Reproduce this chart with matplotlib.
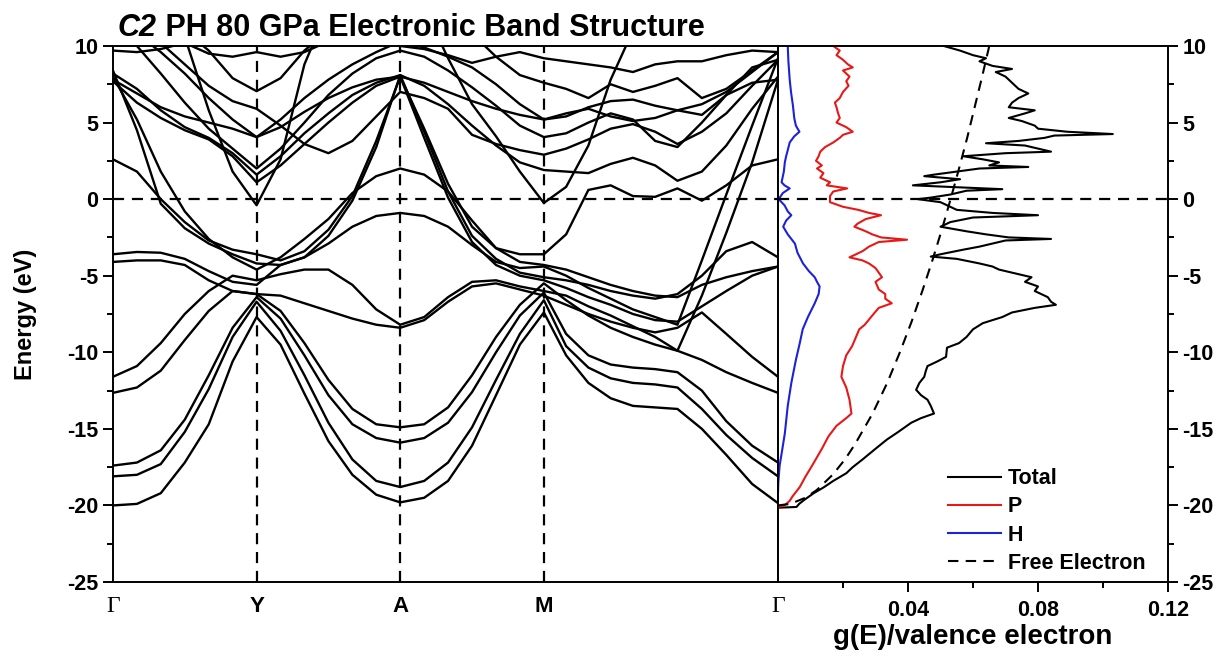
import numpy as np
import matplotlib.pyplot as plt
from matplotlib.ticker import MultipleLocator

plt.rcParams['font.family'] = ['Liberation Sans', 'DejaVu Sans']
plt.rcParams['font.weight'] = 'bold'
plt.rcParams['axes.unicode_minus'] = False

# k-path: high-symmetry points and sample positions along Γ-Y-A-M-Γ
kpath_ticks = [0.0, 1.0, 2.0, 3.0, 4.63]
kpath_labels = ['Γ', 'Y', 'A', 'M', 'Γ']
kpts = [0.0, 0.167, 0.333, 0.5, 0.667, 0.833, 1.0,
        1.167, 1.333, 1.5, 1.667, 1.833, 2.0,
        2.167, 2.333, 2.5, 2.667, 2.833, 3.0,
        3.155, 3.31, 3.465, 3.62, 3.775, 3.93, 4.1, 4.27, 4.45, 4.63]

# band energies (eV) at each kpt
bands = [
    [-20.0, -19.9, -19.2, -17.2, -14.7, -10.6, -7.7, -9.5, -12.7, -15.8, -18.0, -19.3, -19.8,
     -19.5, -18.4, -16.1, -12.8, -9.5, -7.4, -10.2, -12.0, -13.0, -13.5, -13.6, -13.7, -15.0, -16.7, -18.6, -19.85],
    [-18.1, -18.0, -17.3, -15.2, -12.4, -9.0, -6.7, -8.6, -11.5, -14.6, -17.0, -18.4, -18.8,
     -18.4, -17.2, -14.9, -11.8, -8.8, -6.6, -9.6, -11.0, -11.7, -12.0, -12.1, -12.3, -13.7, -15.4, -16.9, -18.1],
    [-17.4, -17.2, -16.4, -14.4, -11.5, -8.4, -6.4, -7.8, -10.2, -12.8, -14.7, -15.6, -15.9,
     -15.6, -14.6, -12.6, -10.0, -7.6, -6.1, -8.8, -10.2, -10.8, -11.0, -11.1, -11.3, -12.5, -14.5, -16.1, -17.2],
    [-12.65, -12.3, -11.2, -9.2, -7.3, -6.0, -6.2, -7.3, -9.4, -11.8, -13.7, -14.7, -14.9,
     -14.7, -13.6, -11.5, -9.0, -6.9, -5.5, -6.6, -7.6, -8.4, -9.0, -9.5, -9.9, -10.5, -11.3, -12.0, -12.65],
    [-11.6, -10.9, -9.4, -7.5, -6.0, -5.0, -5.3, -4.9, -4.6, -4.6, -5.6, -7.2, -8.2,
     -7.7, -6.4, -5.4, -5.3, -5.7, -6.0, -6.3, -7.0, -7.6, -8.3, -9.0, -9.9, -6.3, -2.2, 2.4, 7.8],
    [-4.1, -4.0, -4.0, -4.3, -5.3, -6.0, -6.2, -6.3, -6.8, -7.3, -7.8, -8.2, -8.4,
     -7.9, -6.7, -5.7, -5.5, -5.9, -6.3, -6.9, -7.5, -8.0, -8.4, -8.7, -8.4, -7.4, -8.8, -10.3, -11.6],
    [-3.6, -3.45, -3.5, -3.9, -4.7, -5.4, -5.6, -4.3, -3.8, -2.9, -1.8, -1.1, -0.9,
     -1.1, -1.8, -3.0, -4.1, -4.5, -4.4, -5.0, -5.8, -6.5, -7.2, -7.7, -8.2, -4.0, 0.3, 4.8, 9.2],
    [8.4, 4.5, -0.3, -1.9, -2.9, -3.6, -4.2, -4.3, -3.8, -2.4, -0.1, 3.4, 8.1,
     4.4, 0.5, -2.4, -3.9, -4.8, -5.1, -5.3, -5.6, -6.0, -6.3, -6.5, -6.2, -5.0, -3.4, -2.8, -3.8],
    [8.0, 5.2, 1.8, -0.8, -2.6, -3.8, -4.6, -3.8, -2.6, -1.3, 0.4, 1.5, 2.0,
     1.6, 0.5, -1.4, -3.2, -4.1, -4.3, -4.6, -5.1, -5.6, -6.0, -6.3, -6.4, -5.6, -5.1, -4.7, -4.4],
    [2.6, 1.8, 0.0, -1.5, -2.7, -3.3, -3.6, -4.0, -3.4, -2.0, 0.2, 3.8, 8.0,
     4.0, 0.1, -2.8, -4.3, -5.0, -5.3, -5.8, -6.4, -6.9, -7.5, -7.9, -8.0, -7.0, -6.0, -5.0, -4.4],
    [16.0, 14.5, 12.8, 10.6, 5.8, 1.8, -0.4, 2.6, 8.8, 12.5, 14.0, 15.0, 16.0,
     12.5, 9.2, 6.2, 4.1, 1.8, -0.25, 0.8, 3.5, 7.8, 11.0, 13.0, 14.0, 14.5, 15.0, 15.5, 16.0],
    [7.7, 6.3, 5.3, 4.5, 3.9, 2.8, 1.1, 2.2, 3.6, 5.0, 6.3, 7.4, 8.0,
     4.6, 1.0, -1.8, -3.2, -3.6, -3.6, -2.3, 0.6, 0.9, 0.2, 0.15, 0.7, -0.1, 0.9, 2.2, 2.6],
    [8.2, 7.2, 5.8, 4.7, 4.0, 3.0, 1.6, 2.8, 4.3, 5.6, 6.8, 7.6, 8.1,
     7.4, 6.2, 4.8, 3.5, 2.4, 1.9, 1.8, 1.7, 2.3, 2.7, 2.2, 1.2, 1.8, 3.5, 5.9, 8.0],
    [10.5, 10.0, 8.2, 6.3, 4.6, 3.3, 2.0, 3.3, 5.0, 6.8, 8.2, 9.2, 9.7,
     9.3, 8.4, 7.3, 6.1, 4.8, 4.05, 4.3, 5.0, 5.6, 5.2, 3.8, 3.4, 5.0, 6.8, 8.6, 9.1],
    [11.5, 10.8, 9.6, 8.2, 6.6, 5.2, 4.05, 5.2, 6.6, 7.8, 8.8, 9.6, 10.3,
     9.9, 9.3, 8.6, 7.5, 6.2, 5.2, 5.6, 5.9, 5.4, 5.1, 5.3, 5.8, 5.5, 6.8, 7.6, 7.8],
    [14.0, 13.0, 12.0, 11.0, 9.7, 7.9, 7.05, 7.9, 9.7, 11.0, 12.0, 13.0, 14.0,
     13.0, 12.0, 10.8, 9.3, 8.1, 7.6, 7.2, 6.6, 7.5, 7.0, 7.4, 7.9, 6.6, 7.2, 8.4, 9.6],
    [7.8, 6.9, 6.0, 5.4, 5.0, 4.6, 4.05, 4.7, 5.7, 6.6, 7.3, 7.8, 8.0,
     7.6, 7.0, 6.4, 5.9, 5.5, 5.2, 5.4, 6.0, 6.4, 6.5, 6.1, 5.8, 6.2, 7.0, 8.3, 9.6],
    [9.7, 9.6, 9.8, 10.2, 9.5, 9.3, 9.6, 9.3, 9.6, 10.3, 10.6, 10.3, 10.0,
     9.8, 9.4, 8.9, 9.3, 9.6, 9.2, 9.0, 8.8, 8.6, 8.3, 8.8, 9.0, 9.0, 9.4, 9.7, 9.6],
    [12.5, 11.5, 10.2, 8.8, 7.4, 6.4, 5.9, 4.8, 3.6, 3.0, 3.8, 5.4, 7.0,
     6.6, 5.9, 4.2, 3.6, 3.2, 2.9, 3.3, 3.9, 4.6, 4.9, 4.4, 3.6, 4.4, 5.6, 7.4, 9.1],
]

# density of states per valence electron, (energy, g) pairs
tot_E = [10.0, 9.7, 9.4, 9.2, 9.0, 8.7, 8.5, 8.3, 8.0, 7.6, 7.2, 6.9, 6.6, 6.3, 6.0, 5.8, 5.6, 5.3,
         5.1, 4.8, 4.6, 4.4, 4.25, 4.15, 4.0, 3.8, 3.65, 3.5, 3.3, 3.1, 3.0, 2.8, 2.6, 2.4, 2.2, 2.1,
         2.0, 1.8, 1.6, 1.5, 1.3, 1.1, 0.9, 0.75, 0.65, 0.55, 0.3, 0.1, 0.0, -0.2, -0.5, -0.7, -0.9,
         -1.05, -1.2, -1.5, -1.8, -2.1, -2.3, -2.5, -2.6, -2.7, -2.9, -3.1, -3.3, -3.6, -3.75, -3.9,
         -4.2, -4.4, -4.6, -4.9, -5.1, -5.4, -5.7, -6.0, -6.4, -6.7, -6.9, -7.1, -7.4, -7.7, -8.1,
         -8.5, -9.0, -9.4, -9.7, -10.3, -10.6, -10.9, -11.2, -11.6, -12.0, -12.45, -12.8, -13.1,
         -13.5, -14.0, -14.3, -14.6, -15.2, -15.7, -16.3, -17.0, -17.5, -17.9, -18.4, -18.8, -19.2,
         -19.65, -19.9, -20.1, -20.15]
tot_g = [0.051, 0.056, 0.060, 0.064, 0.062, 0.066, 0.072, 0.067, 0.070, 0.072, 0.074, 0.077, 0.074,
         0.072, 0.071, 0.079, 0.076, 0.071, 0.075, 0.079, 0.080, 0.089, 0.103, 0.085, 0.082, 0.074,
         0.064, 0.076, 0.080, 0.084, 0.070, 0.057, 0.063, 0.068, 0.065, 0.077, 0.062, 0.055, 0.048,
         0.045, 0.056, 0.050, 0.0415, 0.058, 0.069, 0.058, 0.053, 0.047, 0.043, 0.050, 0.053, 0.055,
         0.066, 0.080, 0.060, 0.053, 0.050, 0.058, 0.064, 0.071, 0.084, 0.070, 0.066, 0.062, 0.057,
         0.050, 0.047, 0.055, 0.062, 0.066, 0.068, 0.074, 0.078, 0.076, 0.080, 0.079, 0.083, 0.084,
         0.0855, 0.079, 0.072, 0.069, 0.063, 0.060, 0.058, 0.0557, 0.052, 0.0517, 0.049, 0.046,
         0.0455, 0.045, 0.0435, 0.0425, 0.044, 0.046, 0.047, 0.048, 0.044, 0.041, 0.037, 0.0335,
         0.030, 0.026, 0.023, 0.021, 0.017, 0.0142, 0.011, 0.008, 0.0065, 0.0057, 0.0]

p_E = [10.0, 9.7, 9.4, 9.1, 8.8, 8.6, 8.4, 8.0, 7.7, 7.4, 7.0, 6.6, 6.3, 6.0, 5.6, 5.3, 5.0, 4.7,
       4.4, 4.2, 4.0, 3.7, 3.4, 3.1, 2.8, 2.5, 2.2, 2.0, 1.7, 1.4, 1.1, 0.9, 0.7, 0.5, 0.2, -0.2,
       -0.5, -0.7, -0.9, -1.05, -1.3, -1.6, -1.8, -2.1, -2.3, -2.5, -2.65, -2.8, -3.1, -3.4, -3.8,
       -4.0, -4.2, -4.5, -4.8, -5.1, -5.4, -5.9, -6.2, -6.5, -6.8, -7.1, -7.6, -8.2, -8.5, -9.0,
       -9.6, -10.2, -10.9, -11.6, -12.3, -13.1, -14.0, -14.3, -14.8, -15.5, -16.3, -17.4, -18.1,
       -18.8, -19.4, -19.7, -20.0, -20.1]
p_g = [0.017, 0.019, 0.018, 0.020, 0.0215, 0.023, 0.020, 0.022, 0.021, 0.0217, 0.020, 0.019, 0.0175,
       0.018, 0.0185, 0.019, 0.018, 0.021, 0.023, 0.020, 0.019, 0.017, 0.0145, 0.013, 0.0125, 0.0117,
       0.0135, 0.012, 0.014, 0.013, 0.016, 0.015, 0.0213, 0.017, 0.016, 0.016, 0.020, 0.0247, 0.028,
       0.0317, 0.027, 0.0245, 0.0235, 0.027, 0.029, 0.0317, 0.0397, 0.031, 0.028, 0.026, 0.022, 0.026,
       0.028, 0.030, 0.031, 0.032, 0.030, 0.031, 0.033, 0.033, 0.035, 0.031, 0.029, 0.0267, 0.025,
       0.024, 0.0228, 0.021, 0.020, 0.0195, 0.021, 0.022, 0.0226, 0.021, 0.018, 0.0155, 0.0135,
       0.0105, 0.0085, 0.0067, 0.0045, 0.0036, 0.002, 0.0]

h_E = [10.0, 9.0, 7.8, 7.0, 6.1, 5.3, 4.8, 4.4, 4.1, 3.7, 3.2, 2.8, 2.4, 1.8, 1.1, 0.9, 0.7, 0.4,
       0.0, -0.4, -0.8, -1.05, -1.4, -1.8, -2.3, -2.9, -3.5, -4.2, -4.7, -5.1, -5.4, -5.7, -6.2,
       -6.8, -7.7, -8.5, -9.4, -10.5, -12.0, -13.5, -15.3, -16.5, -17.4, -18.5, -19.2]
h_g = [0.003, 0.0032, 0.0036, 0.004, 0.0046, 0.005, 0.0055, 0.0066, 0.005, 0.0036, 0.003, 0.0025,
       0.0021, 0.0018, 0.0011, 0.002, 0.0036, 0.0015, 0.0002, 0.002, 0.003, 0.0041, 0.0025, 0.0016,
       0.003, 0.0052, 0.006, 0.0077, 0.0095, 0.0113, 0.012, 0.0128, 0.0125, 0.0113, 0.0092, 0.0076,
       0.0067, 0.0055, 0.0041, 0.003, 0.0021, 0.0012, 0.0005, 0.0001, 0.0]

free_E = [-20.0, -19.9, -19.5, -19.0, -18.0, -17.0, -16.0, -14.0, -12.0, -10.0, -8.0, -6.0, -4.0,
          -2.0, 0.0, 2.0, 4.0, 6.0, 8.0, 10.0]
free_g = [0.0, 0.0038, 0.0084, 0.0119, 0.0168, 0.0206, 0.0237, 0.0291, 0.0336, 0.0375, 0.0411,
          0.0444, 0.0475, 0.0504, 0.0531, 0.0557, 0.0582, 0.0605, 0.0628, 0.065]

fig = plt.figure(figsize=(12.25, 6.56), dpi=100)
ax1 = fig.add_axes([0.0922, 0.1128, 0.5429, 0.8171])
ax2 = fig.add_axes([0.6351, 0.1128, 0.3184, 0.8171])

dash = (5, 3.5)

# band structure
for b in bands:
    ax1.plot(kpts, b, color='black', lw=1.7, solid_joinstyle='round')
for k in kpath_ticks[1:4]:
    ax1.axvline(k, color='black', lw=1.6, dashes=dash)
ax1.axhline(0, color='black', lw=1.6, dashes=dash)
ax1.set_xlim(0, 4.63)
ax1.set_ylim(-25, 10)
ax1.set_xticks(kpath_ticks)
ax1.set_xticklabels(kpath_labels)
for lbl in ax1.get_xticklabels():
    if lbl.get_text() == 'Γ':
        lbl.set_family('Liberation Serif')
        lbl.set_fontweight('normal')
        lbl.set_fontsize(17)
    else:
        lbl.set_fontsize(16)
ax1.tick_params(axis='x', length=0, pad=10)
ax1.yaxis.set_major_locator(MultipleLocator(5))
ax1.yaxis.set_minor_locator(MultipleLocator(2.5))
ax1.tick_params(axis='y', which='major', direction='out', length=7, width=1.4, labelsize=15.5)
ax1.tick_params(axis='y', which='minor', direction='out', length=4, width=1.4)
ax1.set_ylabel('Energy (eV)', fontsize=17, fontweight='bold', labelpad=22)
for s in ax1.spines.values():
    s.set_linewidth(1.4)

# density of states
ax2.plot(tot_g, tot_E, color='black', lw=1.5, label='Total')
ax2.plot(p_g, p_E, color='#e81818', lw=1.5, label='P')
ax2.plot(h_g, h_E, color='#1c22d8', lw=1.5, label='H')
ax2.plot(free_g, free_E, color='black', lw=1.5, dashes=dash, label='Free Electron')
ax2.axhline(0, color='black', lw=1.6, dashes=dash)
ax2.set_xlim(0, 0.12)
ax2.set_ylim(-25, 10)
ax2.set_xticks([0.04, 0.08, 0.12])
ax2.set_xticklabels(['0.04', '0.08', '0.12'])
ax2.set_xticks([0.02, 0.06, 0.10], minor=True)
ax2.yaxis.set_major_locator(MultipleLocator(5))
ax2.yaxis.set_minor_locator(MultipleLocator(2.5))
ax2.yaxis.tick_right()
ax2.tick_params(which='major', direction='out', length=7, width=1.4, labelsize=15.5)
ax2.tick_params(which='minor', direction='out', length=4, width=1.4)
ax2.tick_params(axis='x', pad=6)
ax2.set_xlabel('g(E)/valence electron', fontsize=20, fontweight='bold', labelpad=2)
for s in ax2.spines.values():
    s.set_linewidth(1.4)

ax2.legend(loc='upper left', bbox_to_anchor=(0.435, 0.212), frameon=False,
           prop={'size': 15.5, 'weight': 'bold'}, handlelength=2.5, handletextpad=0.3,
           labelspacing=0.33, borderpad=0, borderaxespad=0)

# title: italic space-group symbol followed by the rest
t1 = fig.text(0.0963, 0.9345, 'C2', fontsize=22, fontweight='bold', style='italic',
              ha='left', va='bottom')
ax1.annotate(' PH 80 GPa Electronic Band Structure', xy=(1, 0), xycoords=t1,
             fontsize=22, fontweight='bold', ha='left', va='bottom', annotation_clip=False)

fig.savefig('out.png', dpi=100)
